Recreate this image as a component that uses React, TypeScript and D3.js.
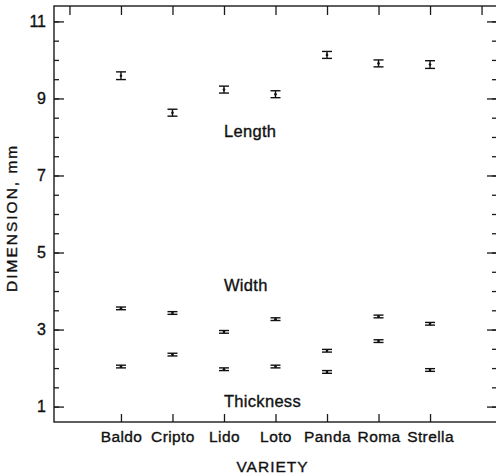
import { useEffect, useRef } from 'react';
import * as d3 from 'd3';

// ─── Data ───────────────────────────────────────────────────
const varieties = ['Baldo', 'Cripto', 'Lido', 'Loto', 'Panda', 'Roma', 'Strella'];

const lengthMean = [9.59, 8.63, 9.23, 9.11, 10.13, 9.91, 9.88];
const lengthErr = [0.1, 0.09, 0.09, 0.09, 0.09, 0.09, 0.1];

const widthMean = [3.55, 3.43, 2.94, 3.27, 2.45, 3.34, 3.15];
const widthErr = [0.035, 0.035, 0.035, 0.035, 0.035, 0.035, 0.035];

const thicknessMean = [2.04, 2.35, 1.97, 2.04, 1.9, 2.7, 1.95];
const thicknessErr = [0.035, 0.035, 0.035, 0.035, 0.035, 0.035, 0.035];

const yMajorTicks = [1, 3, 5, 7, 9, 11];
const yMinorTicks = d3.range(1, 11.01, 0.5);
const xTopTicks = [0, 1, 2, 3, 4, 5, 6, 7, 8];

// in-plot series labels: [text, x position (variety index), y value]
const seriesLabels: [string, number, number][] = [
  ['Length', 3, 8],
  ['Width', 3, 4],
  ['Thickness', 3, 1],
];

const W = 496;
const H = 476;
const FONT = 'Liberation Sans, Arial, Helvetica, sans-serif';
const INK = '#111';

export default function App() {
  const svgRef = useRef<SVGSVGElement>(null);

  useEffect(() => {
    if (!svgRef.current) return;
    const svg = d3.select(svgRef.current);
    svg.selectAll('*').remove();

    // ─── Scales ──────────────────────────────────────────────
    const x = d3.scaleLinear().domain([-0.3, 8.3]).range([54, 497]);
    const y = d3.scaleLinear().domain([0.6, 11.4]).range([422, 6]);

    svg
      .append('rect')
      .attr('x', x(-0.3))
      .attr('y', y(11.4))
      .attr('width', x(8.3) - x(-0.3))
      .attr('height', y(0.6) - y(11.4))
      .attr('fill', 'none')
      .attr('stroke', '#1a1a1a')
      .attr('stroke-width', 1.4);

    // scanned text looks heavier than a plain regular face
    const inked = (t: d3.Selection<any, any, any, any>) =>
      t.attr('fill', INK).attr('stroke', INK).attr('stroke-width', 0.35).attr('font-family', FONT);

    const styleAxis = (g: d3.Selection<SVGGElement, unknown, null, undefined>) => {
      g.select('.domain').remove();
      g.selectAll('line').attr('stroke', '#1a1a1a').attr('stroke-width', 1.3);
      g.selectAll('text').call(inked).attr('font-size', 16);
    };

    // ─── Left axis: minor + major ticks ──────────────────────
    svg
      .append('g')
      .attr('transform', `translate(${x(-0.3)},0)`)
      .call(d3.axisLeft(y).tickValues(yMinorTicks).tickSizeInner(-5).tickSizeOuter(0).tickFormat(() => ''))
      .call(styleAxis);
    svg
      .append('g')
      .attr('transform', `translate(${x(-0.3)},0)`)
      .call(d3.axisLeft(y).tickValues(yMajorTicks).tickSizeInner(-10).tickSizeOuter(0).tickPadding(8).tickFormat(d3.format('d')))
      .call(styleAxis);

    // ─── Right axis (ticks only) ─────────────────────────────
    svg
      .append('g')
      .attr('transform', `translate(${x(8.3)},0)`)
      .call(d3.axisRight(y).tickValues(yMinorTicks).tickSizeInner(-5).tickSizeOuter(0).tickFormat(() => ''))
      .call(styleAxis);
    svg
      .append('g')
      .attr('transform', `translate(${x(8.3)},0)`)
      .call(d3.axisRight(y).tickValues(yMajorTicks).tickSizeInner(-10).tickSizeOuter(0).tickFormat(() => ''))
      .call(styleAxis);

    // ─── Top axis (ticks only) ───────────────────────────────
    svg
      .append('g')
      .attr('transform', `translate(0,${y(11.4)})`)
      .call(d3.axisTop(x).tickValues(xTopTicks).tickSizeInner(-9).tickSizeOuter(0).tickFormat(() => ''))
      .call(styleAxis);

    // ─── Bottom axis with variety names ──────────────────────
    const bottom = svg
      .append('g')
      .attr('transform', `translate(0,${y(0.6)})`)
      .call(
        d3
          .axisBottom(x)
          .tickValues(varieties.map((_, i) => i + 1))
          .tickSizeInner(-8)
          .tickSizeOuter(0)
          .tickPadding(9)
          .tickFormat((d) => varieties[(d as number) - 1])
      )
      .call(styleAxis);
    bottom.selectAll('text').attr('font-size', 15.5).attr('letter-spacing', 0.4);

    // ─── Error bars ──────────────────────────────────────────
    const series = [
      { mean: lengthMean, err: lengthErr },
      { mean: widthMean, err: widthErr },
      { mean: thicknessMean, err: thicknessErr },
    ];
    const capHalf = 5;
    const bars = svg.append('g').attr('stroke', INK).attr('stroke-width', 1.4);
    series.forEach((s) => {
      s.mean.forEach((m, i) => {
        const cx = x(i + 1);
        const y0 = y(m - s.err[i]);
        const y1 = y(m + s.err[i]);
        const g = bars.append('g');
        g.append('line').attr('x1', cx).attr('x2', cx).attr('y1', y0).attr('y2', y1);
        g.append('line').attr('x1', cx - capHalf).attr('x2', cx + capHalf).attr('y1', y0).attr('y2', y0);
        g.append('line').attr('x1', cx - capHalf).attr('x2', cx + capHalf).attr('y1', y1).attr('y2', y1);
        g.append('circle').attr('cx', cx).attr('cy', y(m)).attr('r', 1.3).attr('fill', INK).attr('stroke', 'none');
      });
    });

    // ─── Series labels ───────────────────────────────────────
    svg
      .append('g')
      .selectAll('text')
      .data(seriesLabels)
      .join('text')
      .attr('x', (d) => x(d[1]))
      .attr('y', (d) => y(d[2]))
      .call(inked)
      .attr('font-size', 16.5)
      .attr('letter-spacing', 0.3)
      .text((d) => d[0]);

    // ─── Axis titles ─────────────────────────────────────────
    svg
      .append('text')
      .attr('x', (x(-0.3) + x(8.3)) / 2 - 3)
      .attr('y', 472)
      .attr('text-anchor', 'middle')
      .call(inked)
      .attr('font-size', 15.5)
      .attr('letter-spacing', 1)
      .text('VARIETY');

    svg
      .append('text')
      .attr('transform', `translate(17,${y(5.9)}) rotate(-90)`)
      .attr('text-anchor', 'middle')
      .call(inked)
      .attr('font-size', 15.5)
      .attr('letter-spacing', 2)
      .text('DIMENSION, mm');
  }, []);

  return (
    <svg
      ref={svgRef}
      width={W}
      height={H}
      style={{ position: 'absolute', left: 0, top: 0, background: '#fff' }}
    />
  );
}
